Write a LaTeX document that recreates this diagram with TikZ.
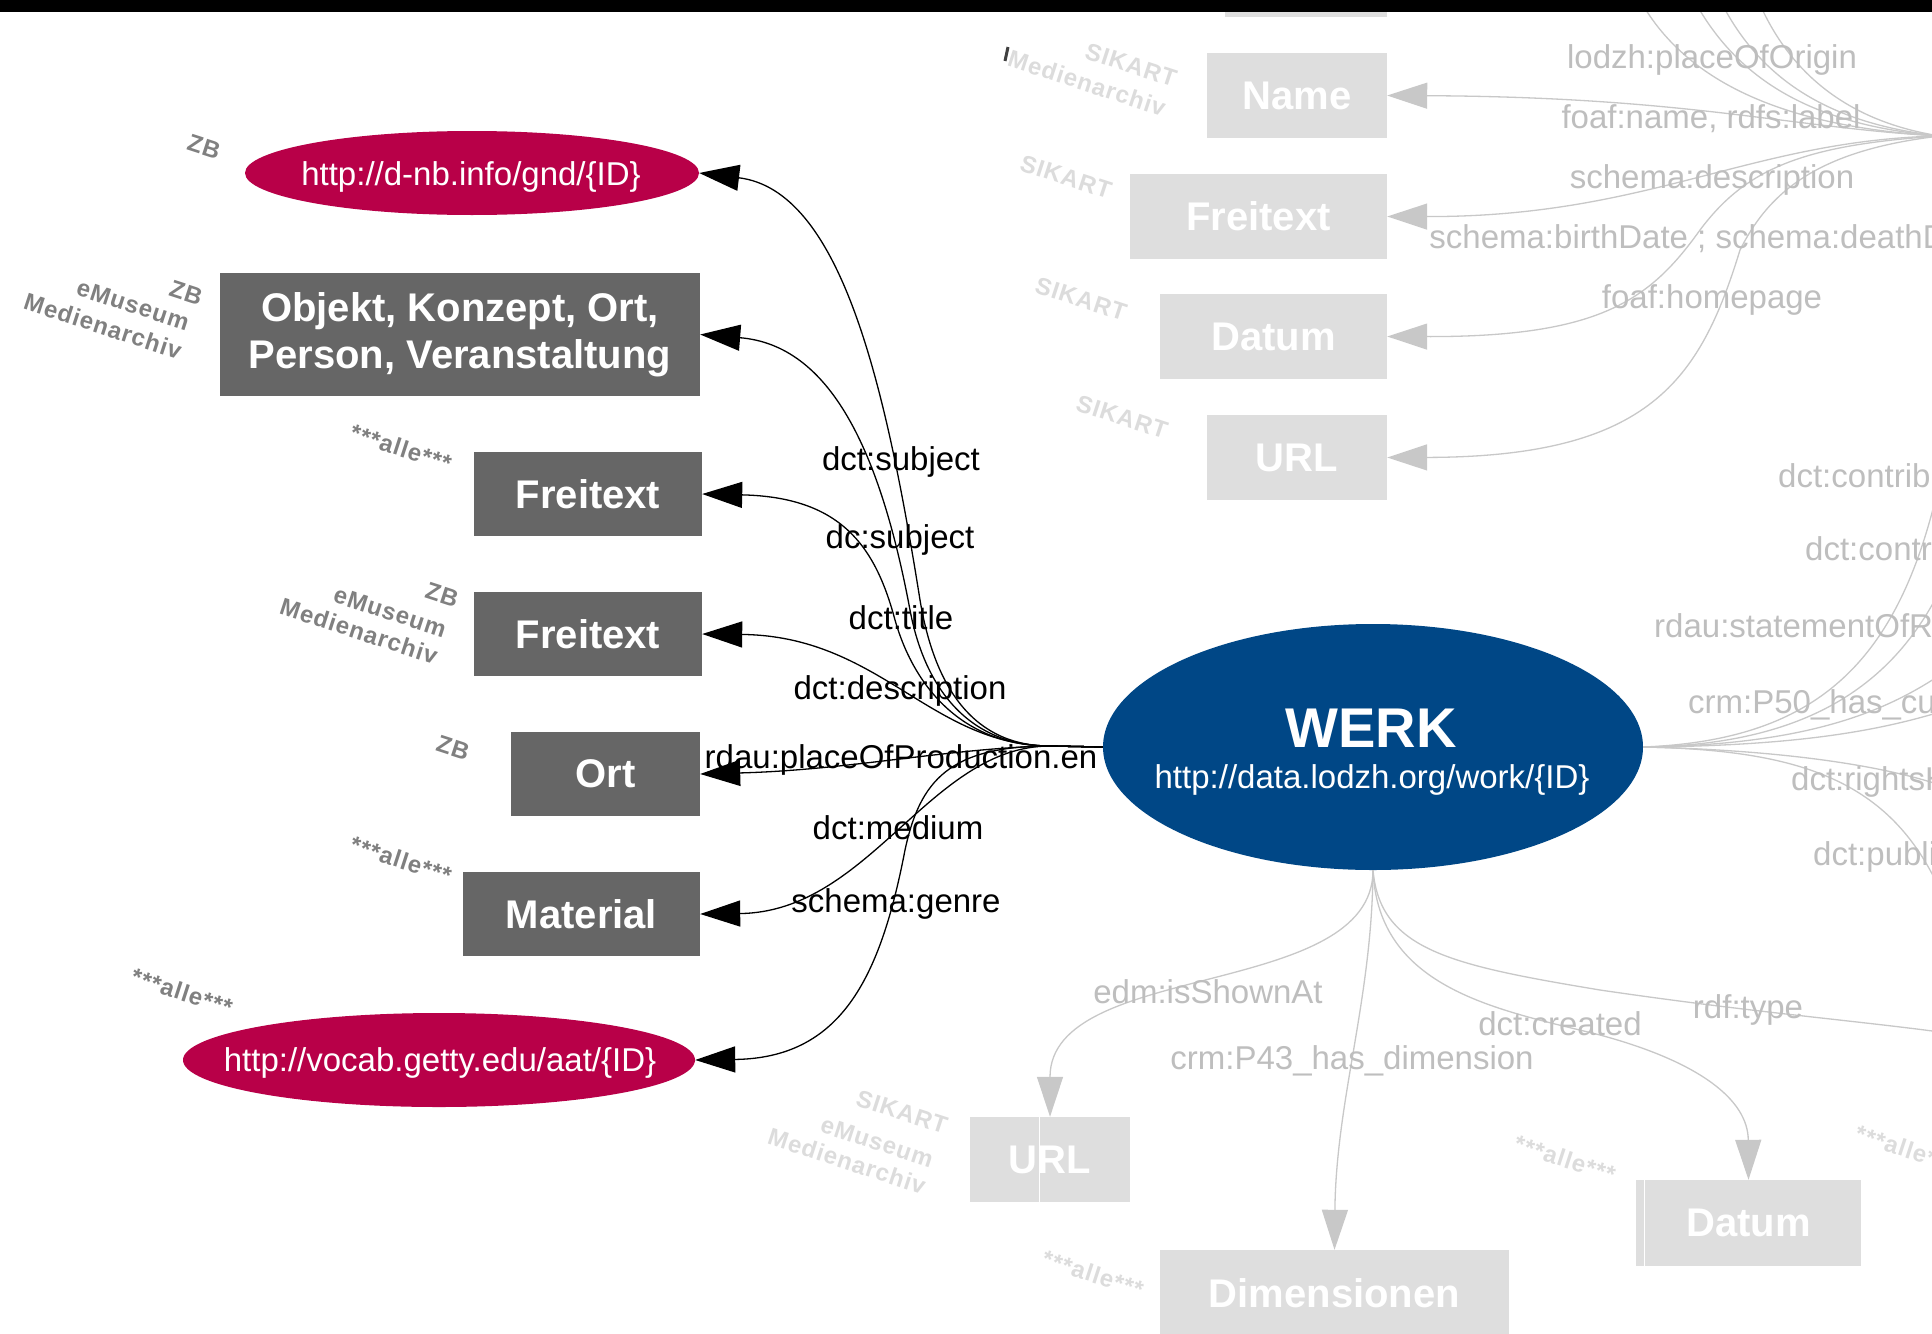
\documentclass[tikz,border=0pt]{standalone}
\usepackage{fontspec}
\setmainfont{Liberation Sans}
\newfontfamily\lblfont[LetterSpace=4]{Liberation Sans}
\usetikzlibrary{arrows.meta,shapes.geometric}
\definecolor{darkbox}{HTML}{666666}
\definecolor{crimson}{RGB}{184,0,72}
\definecolor{werkblue}{RGB}{0,71,134}
\definecolor{fadebox}{HTML}{DEDEDE}
\definecolor{fadeline}{HTML}{C8C8C8}
\definecolor{fadetext}{HTML}{BEBEBE}
\definecolor{fadelbl}{HTML}{DCDCDC}
\definecolor{darklbl}{HTML}{808080}
\begin{document}
\begin{tikzpicture}[x=1pt,y=-1pt,
  dbox/.style={rectangle, fill=darkbox, text=white, font=\fontsize{40}{47}\selectfont\bfseries, inner sep=0pt, align=center},
  fbx/.style={rectangle, fill=fadebox, text=white, font=\fontsize{40}{47}\selectfont\bfseries, inner sep=0pt},
  rdoval/.style={ellipse, fill=crimson, inner sep=0pt},
  ovaltext/.style={anchor=base, text=white, font=\fontsize{33}{38}\selectfont, inner sep=0pt},
  elab/.style={anchor=base, font=\fontsize{33}{38}\selectfont, inner sep=0pt},
  flab/.style={elab, text=fadetext},
  dtag/.style={font=\lblfont\fontsize{24}{26}\selectfont\bfseries, text=darklbl, rotate=-18, inner sep=0pt},
  ftag/.style={dtag, text=fadelbl},
  blkarrow/.style={draw=black, line width=1.3pt, -{Triangle[length=40pt,width=26pt]}},
  gryarrow/.style={draw=fadeline, line width=1.3pt, -{Triangle[length=40pt,width=26pt,fill=fadeline]}},
  gryline/.style={draw=fadeline, line width=1.3pt},
]
\useasboundingbox (0,0) rectangle (1932,1333);
\clip (0,0) rectangle (1932,1333);
\fill[white] (0,0) rectangle (1932,1333);

% ---------- faded upper right ----------
\node[fbx, minimum width=162, minimum height=86] (ftop) at (1306,-26) {};
\node[fbx, minimum width=180, minimum height=85] (fname) at (1297,95.5) {Name};
\node[fbx, minimum width=257, minimum height=85] (ffrei) at (1258.5,216.5) {Freitext};
\node[fbx, minimum width=227, minimum height=85] (fdat) at (1273.5,336.5) {Datum};
\node[fbx, minimum width=180, minimum height=85] (furl) at (1297,457.5) {URL};

\coordinate (hubR) at (1940,136);
\coordinate (tp1) at (1640,0);
\coordinate (tp2) at (1694,0);
\coordinate (tp3) at (1720,0);
\coordinate (tp4) at (1758,0);

\draw[gryline] (tp1) .. controls (1690,90) and (1800,128) .. (hubR);
\draw[gryline] (tp2) .. controls (1740,85) and (1820,126) .. (hubR);
\draw[gryline] (tp3) .. controls (1760,80) and (1830,124) .. (hubR);
\draw[gryline] (tp4) .. controls (1790,75) and (1850,122) .. (hubR);

\draw[gryarrow] (hubR) .. controls (1790,128) and (1690,97) .. (fname.east);
\draw[gryarrow] (hubR) .. controls (1750,140) and (1650,217) .. (ffrei.east);
\draw[gryarrow] (hubR) .. controls (1800,145) and (1745,170) .. (1700,230) .. controls (1650,300) and (1600,337) .. (fdat.east);
\draw[gryarrow] (hubR) .. controls (1820,150) and (1770,190) .. (1740,250) .. controls (1700,380) and (1650,457) .. (furl.east);

\node[flab] (l1) at (1712,68) {lodzh:placeOfOrigin};
\node[flab] (l2) at (1711,128) {foaf:name, rdfs:label};
\node[flab] (l3) at (1712,188) {schema:description};
\node[flab] (l4) at (1711,248) {schema:birthDate ; schema:deathDate};
\node[flab] (l5) at (1712,308) {foaf:homepage};

\node[ftag] (ft1) at (1131,65) {SIKART};
\node[ftag] (ft2) at (1087,83) {Medienarchiv};
\draw[black!75, line width=3pt] (1008,47) -- (1005,61);
\node[ftag] (ft3) at (1066,177) {SIKART};
\node[ftag] (ft4) at (1081,299) {SIKART};
\node[ftag] (ft5) at (1122,417) {SIKART};

% ---------- WERK ----------
\node[ellipse, fill=werkblue, minimum width=540, minimum height=246, inner sep=0pt] (werk) at (1373,747) {};
\node[anchor=base, text=white, inner sep=0pt, font=\fontsize{56}{60}\selectfont\bfseries] (werkt) at (1371,747) {WERK};
\node[anchor=base, text=white, inner sep=0pt, font=\fontsize{33}{38}\selectfont] (werku) at (1372,788) {http://data.lodzh.org/work/\{ID\}};

% ---------- faded right fan ----------
\coordinate (fa) at (1940,480);
\coordinate (fb) at (1940,590);
\coordinate (fc) at (1940,675);
\coordinate (fd) at (1940,712);
\coordinate (fe) at (1940,785);
\coordinate (ff) at (1940,890);
\draw[gryline] (werk.east) .. controls (1820,740) and (1900,660) .. (fa);
\draw[gryline] (werk.east) .. controls (1800,745) and (1890,690) .. (fb);
\draw[gryline] (werk.east) .. controls (1800,745) and (1880,715) .. (fc);
\draw[gryline] (werk.east) .. controls (1800,746) and (1880,730) .. (fd);
\draw[gryline] (werk.east) .. controls (1780,750) and (1880,765) .. (fe);
\draw[gryline] (werk.east) .. controls (1800,750) and (1890,780) .. (ff);

\node[flab, anchor=base west] (r1) at (1778,487) {dct:contributor};
\node[flab, anchor=base west] (r2) at (1805,560) {dct:contributor};
\node[flab, anchor=base west] (r3) at (1654,637) {rdau:statementOfResponsibility};
\node[flab, anchor=base west] (r4) at (1688,713) {crm:P50\_has\_current\_keeper};
\node[flab, anchor=base west] (r5) at (1791,790) {dct:rightsHolder};
\node[flab, anchor=base west] (r6) at (1813,865) {dct:publisher};

% ---------- faded bottom ----------
\node[fbx, minimum width=160, minimum height=85] (burl) at (1050,1159.5) {URL};
\node[fbx, minimum width=349, minimum height=86] (bdim) at (1334.5,1293) {Dimensionen};
\node[fbx, minimum width=225, minimum height=86] (bdat) at (1748.5,1223) {Datum};
\draw[white, line width=1pt] (1039,1117) -- (1039,1202);
\draw[white, line width=1pt] (1644,1180) -- (1644,1266);

\coordinate (rdfend) at (1940,1032);
\draw[gryarrow] (werk.south) .. controls (1373,1000) and (1050,960) .. (burl.north);
\draw[gryarrow] (werk.south) .. controls (1372,1000) and (1336,1100) .. (bdim.north);
\draw[gryarrow] (werk.south) .. controls (1378,990) and (1500,1010) .. (1600,1035) .. controls (1700,1062) and (1748,1100) .. (bdat.north);
\draw[gryline] (werk.south) .. controls (1380,950) and (1450,965) .. (1600,990) .. controls (1750,1012) and (1850,1020) .. (rdfend);

\node[flab] (b1) at (1208,1003) {edm:isShownAt};
\node[flab] (b2) at (1352,1069) {crm:P43\_has\_dimension};
\node[flab] (b3) at (1560,1035) {dct:created};
\node[flab] (b4) at (1748,1018) {rdf:type};

\node[ftag] (ft6) at (902,1112) {SIKART};
\node[ftag] (ft7) at (877,1142) {eMuseum};
\node[ftag] (ft8) at (847,1161) {Medienarchiv};
\node[ftag] (ft9) at (1093,1274) {***alle***};
\node[ftag] (ft10) at (1565,1159) {***alle***};
\node[ftag] (ft11) at (1906,1149) {***alle***};

% ---------- dark left side ----------
\node[rdoval, minimum width=454, minimum height=84] (gnd) at (472,173) {};
\node[ovaltext] (gndt) at (471,185) {http://d-nb.info/gnd/\{ID\}};
\node[dbox, minimum width=480, minimum height=123] (obj) at (460,334.5) {Objekt, Konzept, Ort,\\Person, Veranstaltung};
\node[dbox, minimum width=228, minimum height=84] (frei1) at (588,494) {Freitext};
\node[dbox, minimum width=228, minimum height=84] (frei2) at (588,634) {Freitext};
\node[dbox, minimum width=189, minimum height=84] (ort) at (605.5,774) {Ort};
\node[dbox, minimum width=237, minimum height=84] (mat) at (581.5,914) {Material};
\node[rdoval, minimum width=512, minimum height=94] (aat) at (439,1060) {};
\node[ovaltext] (aatt) at (440,1071) {http://vocab.getty.edu/aat/\{ID\}};

\node[dtag] (d1) at (204,147) {ZB};
\node[dtag] (d2) at (186,293) {ZB};
\node[dtag] (d3) at (133,305) {eMuseum};
\node[dtag] (d4) at (103,326) {Medienarchiv};
\node[dtag] (d5) at (401,448) {***alle***};
\node[dtag] (d6) at (442,595) {ZB};
\node[dtag] (d7) at (390,612) {eMuseum};
\node[dtag] (d8) at (359,631) {Medienarchiv};
\node[dtag] (d9) at (453,748) {ZB};
\node[dtag] (d10) at (401,860) {***alle***};
\node[dtag] (d11) at (182,992) {***alle***};

% ---------- black edges ----------
\draw[blkarrow] (werk.west) -- (1050,746) .. controls (975,746) and (935,690) .. (920,600) .. controls (885,380) and (840,190) .. (gnd.east);
\draw[blkarrow] (werk.west) -- (1050,746) .. controls (970,746) and (925,690) .. (910,610) .. controls (880,450) and (830,345) .. (obj.east);
\draw[blkarrow] (werk.west) -- (1050,746) .. controls (965,746) and (915,690) .. (895,620) .. controls (875,545) and (840,497) .. (frei1.east);
\draw[blkarrow] (werk.west) -- (1050,746) .. controls (930,745) and (880,636) .. (frei2.east);
\draw[blkarrow] (werk.west) -- (1050,746) .. controls (950,748) and (850,770) .. (ort.east);
\draw[blkarrow] (werk.west) -- (1050,746) .. controls (930,746) and (870,912) .. (mat.east);
\draw[blkarrow] (werk.west) -- (1050,746) .. controls (950,746) and (920,780) .. (905,850) .. controls (880,980) and (840,1058) .. (aat.east);

\node[elab] (e1) at (901,470) {dct:subject};
\node[elab] (e2) at (900,548) {dc:subject};
\node[elab] (e3) at (901,629) {dct:title};
\node[elab] (e4) at (900,699) {dct:description};
\node[elab] (e5) at (901,768) {rdau:placeOfProduction.en};
\node[elab] (e6) at (898,839) {dct:medium};
\node[elab] (e7) at (896,912) {schema:genre};

% ---------- top bar ----------
\fill[black] (0,0) rectangle (1932,12);
\end{tikzpicture}
\end{document}
